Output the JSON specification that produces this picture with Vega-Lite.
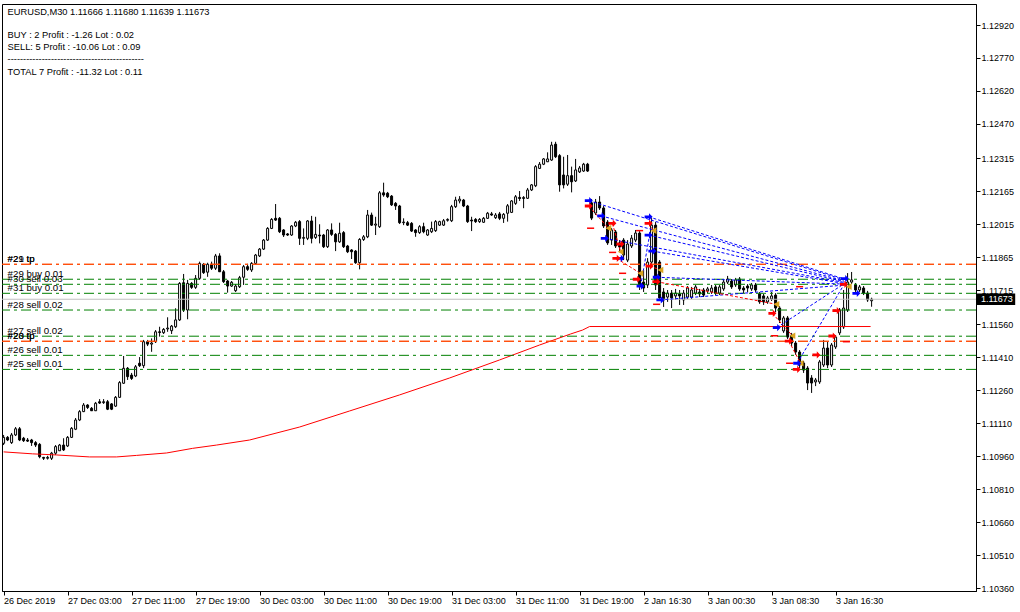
{
"$schema":"https://vega.github.io/schema/vega-lite/v6.json",
"width":974,"height":587,
"autosize":{"type":"none"},
"padding":{"left":2,"top":4,"right":44,"bottom":21},
"background":"white",
"config":{"view":{"stroke":"#000","strokeWidth":1},"axis":{"domainColor":"#000","tickColor":"#000","labelColor":"#000","labelFont":"Liberation Sans","labelFontSize":9,"grid":false,"labelOverlap":false}},
"datasets":{
"bars":[
{"i":0,"o":1.11018,"h":1.11056,"l":1.11010,"c":1.11045},
{"i":1,"o":1.11045,"h":1.11051,"l":1.11028,"c":1.11033},
{"i":2,"o":1.11021,"h":1.11065,"l":1.11015,"c":1.11056},
{"i":3,"o":1.11056,"h":1.11092,"l":1.11051,"c":1.11084},
{"i":4,"o":1.11084,"h":1.11092,"l":1.11028,"c":1.11033},
{"i":5,"o":1.11041,"h":1.11047,"l":1.11024,"c":1.11030},
{"i":6,"o":1.11033,"h":1.11042,"l":1.11024,"c":1.11028},
{"i":7,"o":1.11033,"h":1.11038,"l":1.11006,"c":1.11021},
{"i":8,"o":1.11021,"h":1.11028,"l":1.11001,"c":1.11010},
{"i":9,"o":1.11013,"h":1.11019,"l":1.10950,"c":1.10957},
{"i":10,"o":1.10954,"h":1.10956,"l":1.10942,"c":1.10950},
{"i":11,"o":1.10950,"h":1.10961,"l":1.10944,"c":1.10954},
{"i":12,"o":1.10950,"h":1.10979,"l":1.10942,"c":1.10973},
{"i":13,"o":1.10973,"h":1.11010,"l":1.10965,"c":1.11003},
{"i":14,"o":1.10984,"h":1.11015,"l":1.10983,"c":1.11010},
{"i":15,"o":1.11010,"h":1.11041,"l":1.10983,"c":1.10988},
{"i":16,"o":1.11006,"h":1.11051,"l":1.11001,"c":1.11045},
{"i":17,"o":1.11045,"h":1.11092,"l":1.11042,"c":1.11086},
{"i":18,"o":1.11082,"h":1.11133,"l":1.11078,"c":1.11124},
{"i":19,"o":1.11124,"h":1.11169,"l":1.11119,"c":1.11162},
{"i":20,"o":1.11162,"h":1.11201,"l":1.11160,"c":1.11192},
{"i":21,"o":1.11192,"h":1.11196,"l":1.11174,"c":1.11181},
{"i":22,"o":1.11177,"h":1.11183,"l":1.11165,"c":1.11166},
{"i":23,"o":1.11166,"h":1.11206,"l":1.11165,"c":1.11200},
{"i":24,"o":1.11207,"h":1.11219,"l":1.11197,"c":1.11201},
{"i":25,"o":1.11203,"h":1.11219,"l":1.11197,"c":1.11207},
{"i":26,"o":1.11207,"h":1.11215,"l":1.11169,"c":1.11173},
{"i":27,"o":1.11197,"h":1.11201,"l":1.11169,"c":1.11173},
{"i":28,"o":1.11187,"h":1.11233,"l":1.11183,"c":1.11227},
{"i":29,"o":1.11227,"h":1.11301,"l":1.11224,"c":1.11294},
{"i":30,"o":1.11291,"h":1.11415,"l":1.11288,"c":1.11359},
{"i":31,"o":1.11359,"h":1.11365,"l":1.11306,"c":1.11321},
{"i":32,"o":1.11328,"h":1.11338,"l":1.11306,"c":1.11313},
{"i":33,"o":1.11324,"h":1.11374,"l":1.11319,"c":1.11366},
{"i":34,"o":1.11382,"h":1.11410,"l":1.11365,"c":1.11371},
{"i":35,"o":1.11371,"h":1.11488,"l":1.11360,"c":1.11480},
{"i":36,"o":1.11480,"h":1.11488,"l":1.11460,"c":1.11469},
{"i":37,"o":1.11469,"h":1.11495,"l":1.11434,"c":1.11474},
{"i":38,"o":1.11480,"h":1.11533,"l":1.11474,"c":1.11525},
{"i":39,"o":1.11525,"h":1.11548,"l":1.11503,"c":1.11522},
{"i":40,"o":1.11521,"h":1.11542,"l":1.11515,"c":1.11536},
{"i":41,"o":1.11538,"h":1.11591,"l":1.11525,"c":1.11542},
{"i":42,"o":1.11530,"h":1.11556,"l":1.11515,"c":1.11551},
{"i":43,"o":1.11548,"h":1.11632,"l":1.11542,"c":1.11579},
{"i":44,"o":1.11579,"h":1.11751,"l":1.11574,"c":1.11745},
{"i":45,"o":1.11748,"h":1.11788,"l":1.11615,"c":1.11624},
{"i":46,"o":1.11624,"h":1.11761,"l":1.11582,"c":1.11745},
{"i":47,"o":1.11745,"h":1.11751,"l":1.11720,"c":1.11727},
{"i":48,"o":1.11727,"h":1.11783,"l":1.11720,"c":1.11768},
{"i":49,"o":1.11768,"h":1.11844,"l":1.11761,"c":1.11836},
{"i":50,"o":1.11832,"h":1.11838,"l":1.11788,"c":1.11794},
{"i":51,"o":1.11796,"h":1.11839,"l":1.11775,"c":1.11832},
{"i":52,"o":1.11832,"h":1.11844,"l":1.11806,"c":1.11814},
{"i":53,"o":1.11814,"h":1.11879,"l":1.11806,"c":1.11870},
{"i":54,"o":1.11870,"h":1.11882,"l":1.11797,"c":1.11798},
{"i":55,"o":1.11798,"h":1.11806,"l":1.11747,"c":1.11753},
{"i":56,"o":1.11756,"h":1.11761,"l":1.11703,"c":1.11733},
{"i":57,"o":1.11733,"h":1.11756,"l":1.11729,"c":1.11750},
{"i":58,"o":1.11712,"h":1.11742,"l":1.11706,"c":1.11733},
{"i":59,"o":1.11730,"h":1.11779,"l":1.11724,"c":1.11771},
{"i":60,"o":1.11773,"h":1.11829,"l":1.11738,"c":1.11821},
{"i":61,"o":1.11821,"h":1.11834,"l":1.11802,"c":1.11809},
{"i":62,"o":1.11806,"h":1.11842,"l":1.11797,"c":1.11836},
{"i":63,"o":1.11836,"h":1.11879,"l":1.11829,"c":1.11874},
{"i":64,"o":1.11870,"h":1.11906,"l":1.11865,"c":1.11901},
{"i":65,"o":1.11901,"h":1.11947,"l":1.11897,"c":1.11942},
{"i":66,"o":1.11942,"h":1.12001,"l":1.11938,"c":1.11995},
{"i":67,"o":1.11995,"h":1.12042,"l":1.11992,"c":1.12036},
{"i":68,"o":1.12041,"h":1.12106,"l":1.12029,"c":1.12033},
{"i":69,"o":1.12041,"h":1.12047,"l":1.11974,"c":1.11980},
{"i":70,"o":1.11988,"h":1.11992,"l":1.11956,"c":1.11965},
{"i":71,"o":1.11970,"h":1.11974,"l":1.11961,"c":1.11965},
{"i":72,"o":1.11965,"h":1.12010,"l":1.11961,"c":1.12006},
{"i":73,"o":1.12006,"h":1.12029,"l":1.12001,"c":1.12023},
{"i":74,"o":1.12026,"h":1.12033,"l":1.11920,"c":1.11950},
{"i":75,"o":1.11950,"h":1.11995,"l":1.11920,"c":1.11954},
{"i":76,"o":1.11950,"h":1.12033,"l":1.11942,"c":1.12029},
{"i":77,"o":1.12029,"h":1.12052,"l":1.11927,"c":1.11950},
{"i":78,"o":1.11954,"h":1.12048,"l":1.11947,"c":1.11968},
{"i":79,"o":1.11965,"h":1.12014,"l":1.11927,"c":1.11961},
{"i":80,"o":1.11965,"h":1.11970,"l":1.11906,"c":1.11912},
{"i":81,"o":1.11912,"h":1.11992,"l":1.11906,"c":1.11988},
{"i":82,"o":1.11988,"h":1.12018,"l":1.11961,"c":1.11968},
{"i":83,"o":1.11968,"h":1.11974,"l":1.11892,"c":1.11934},
{"i":84,"o":1.11934,"h":1.12021,"l":1.11929,"c":1.11973},
{"i":85,"o":1.11976,"h":1.11983,"l":1.11906,"c":1.11912},
{"i":86,"o":1.11915,"h":1.11920,"l":1.11883,"c":1.11889},
{"i":87,"o":1.11897,"h":1.11901,"l":1.11856,"c":1.11889},
{"i":88,"o":1.11892,"h":1.11897,"l":1.11834,"c":1.11839},
{"i":89,"o":1.11839,"h":1.11951,"l":1.11809,"c":1.11945},
{"i":90,"o":1.11945,"h":1.11965,"l":1.11938,"c":1.11957},
{"i":91,"o":1.11957,"h":1.12079,"l":1.11951,"c":1.12056},
{"i":92,"o":1.12056,"h":1.12067,"l":1.12006,"c":1.12010},
{"i":93,"o":1.12010,"h":1.12048,"l":1.11965,"c":1.12015},
{"i":94,"o":1.12003,"h":1.12165,"l":1.11997,"c":1.12157},
{"i":95,"o":1.12157,"h":1.12203,"l":1.12139,"c":1.12147},
{"i":96,"o":1.12155,"h":1.12161,"l":1.12133,"c":1.12139},
{"i":97,"o":1.12142,"h":1.12147,"l":1.12097,"c":1.12102},
{"i":98,"o":1.12109,"h":1.12115,"l":1.12079,"c":1.12097},
{"i":99,"o":1.12097,"h":1.12102,"l":1.12015,"c":1.12021},
{"i":100,"o":1.12021,"h":1.12041,"l":1.12010,"c":1.12024},
{"i":101,"o":1.12021,"h":1.12029,"l":1.12006,"c":1.12010},
{"i":102,"o":1.12018,"h":1.12024,"l":1.11979,"c":1.11983},
{"i":103,"o":1.11988,"h":1.11992,"l":1.11957,"c":1.11976},
{"i":104,"o":1.11976,"h":1.12010,"l":1.11970,"c":1.12003},
{"i":105,"o":1.12003,"h":1.12021,"l":1.11973,"c":1.11980},
{"i":106,"o":1.11965,"h":1.11992,"l":1.11961,"c":1.11988},
{"i":107,"o":1.11980,"h":1.12026,"l":1.11974,"c":1.11995},
{"i":108,"o":1.11985,"h":1.12033,"l":1.11979,"c":1.12026},
{"i":109,"o":1.12010,"h":1.12030,"l":1.12006,"c":1.12026},
{"i":110,"o":1.12010,"h":1.12038,"l":1.12006,"c":1.12030},
{"i":111,"o":1.12032,"h":1.12041,"l":1.12026,"c":1.12036},
{"i":112,"o":1.12030,"h":1.12102,"l":1.12024,"c":1.12094},
{"i":113,"o":1.12094,"h":1.12139,"l":1.12088,"c":1.12124},
{"i":114,"o":1.12120,"h":1.12142,"l":1.12109,"c":1.12128},
{"i":115,"o":1.12124,"h":1.12129,"l":1.12092,"c":1.12097},
{"i":116,"o":1.12097,"h":1.12102,"l":1.12020,"c":1.12026},
{"i":117,"o":1.12033,"h":1.12048,"l":1.11983,"c":1.12029},
{"i":118,"o":1.12036,"h":1.12042,"l":1.12020,"c":1.12026},
{"i":119,"o":1.12026,"h":1.12042,"l":1.12020,"c":1.12036},
{"i":120,"o":1.12023,"h":1.12047,"l":1.12020,"c":1.12041},
{"i":121,"o":1.12041,"h":1.12070,"l":1.12038,"c":1.12064},
{"i":122,"o":1.12061,"h":1.12070,"l":1.12052,"c":1.12056},
{"i":123,"o":1.12044,"h":1.12065,"l":1.12038,"c":1.12056},
{"i":124,"o":1.12061,"h":1.12070,"l":1.12033,"c":1.12041},
{"i":125,"o":1.12041,"h":1.12065,"l":1.12020,"c":1.12059},
{"i":126,"o":1.12064,"h":1.12106,"l":1.12026,"c":1.12098},
{"i":127,"o":1.12068,"h":1.12124,"l":1.12065,"c":1.12120},
{"i":128,"o":1.12109,"h":1.12147,"l":1.12102,"c":1.12139},
{"i":129,"o":1.12136,"h":1.12165,"l":1.12120,"c":1.12131},
{"i":130,"o":1.12131,"h":1.12142,"l":1.12087,"c":1.12136},
{"i":131,"o":1.12132,"h":1.12179,"l":1.12129,"c":1.12170},
{"i":132,"o":1.12170,"h":1.12197,"l":1.12165,"c":1.12193},
{"i":133,"o":1.12189,"h":1.12283,"l":1.12183,"c":1.12276},
{"i":134,"o":1.12268,"h":1.12297,"l":1.12265,"c":1.12287},
{"i":135,"o":1.12287,"h":1.12315,"l":1.12283,"c":1.12311},
{"i":136,"o":1.12298,"h":1.12341,"l":1.12297,"c":1.12311},
{"i":137,"o":1.12306,"h":1.12389,"l":1.12302,"c":1.12374},
{"i":138,"o":1.12378,"h":1.12389,"l":1.12315,"c":1.12321},
{"i":139,"o":1.12326,"h":1.12333,"l":1.12162,"c":1.12193},
{"i":140,"o":1.12238,"h":1.12321,"l":1.12177,"c":1.12193},
{"i":141,"o":1.12196,"h":1.12329,"l":1.12188,"c":1.12235},
{"i":142,"o":1.12235,"h":1.12276,"l":1.12159,"c":1.12207},
{"i":143,"o":1.12211,"h":1.12311,"l":1.12206,"c":1.12261},
{"i":144,"o":1.12252,"h":1.12279,"l":1.12247,"c":1.12270},
{"i":145,"o":1.12256,"h":1.12293,"l":1.12252,"c":1.12287},
{"i":146,"o":1.12287,"h":1.12293,"l":1.12252,"c":1.12256},
{"i":147,"o":1.12111,"h":1.12129,"l":1.12033,"c":1.12042},
{"i":148,"o":1.12065,"h":1.12129,"l":1.12056,"c":1.12115},
{"i":149,"o":1.12115,"h":1.12142,"l":1.12079,"c":1.12088},
{"i":150,"o":1.12088,"h":1.12097,"l":1.11997,"c":1.12006},
{"i":151,"o":1.12024,"h":1.12033,"l":1.11920,"c":1.11929},
{"i":152,"o":1.11942,"h":1.11997,"l":1.11920,"c":1.11988},
{"i":153,"o":1.11979,"h":1.11988,"l":1.11906,"c":1.11915},
{"i":154,"o":1.11929,"h":1.11942,"l":1.11888,"c":1.11911},
{"i":155,"o":1.11942,"h":1.11951,"l":1.11851,"c":1.11874},
{"i":156,"o":1.11851,"h":1.11942,"l":1.11842,"c":1.11924},
{"i":157,"o":1.11915,"h":1.11965,"l":1.11906,"c":1.11951},
{"i":158,"o":1.11942,"h":1.11988,"l":1.11933,"c":1.11974},
{"i":159,"o":1.11974,"h":1.11983,"l":1.11715,"c":1.11738},
{"i":160,"o":1.11751,"h":1.11806,"l":1.11706,"c":1.11724},
{"i":161,"o":1.11738,"h":1.11860,"l":1.11724,"c":1.11842},
{"i":162,"o":1.11842,"h":1.12042,"l":1.11834,"c":1.12010},
{"i":163,"o":1.12010,"h":1.12024,"l":1.11715,"c":1.11738},
{"i":164,"o":1.11842,"h":1.11851,"l":1.11665,"c":1.11679},
{"i":165,"o":1.11706,"h":1.11724,"l":1.11638,"c":1.11670},
{"i":166,"o":1.11683,"h":1.11715,"l":1.11661,"c":1.11701},
{"i":167,"o":1.11701,"h":1.11715,"l":1.11633,"c":1.11679},
{"i":168,"o":1.11688,"h":1.11720,"l":1.11670,"c":1.11701},
{"i":169,"o":1.11697,"h":1.11715,"l":1.11647,"c":1.11688},
{"i":170,"o":1.11670,"h":1.11715,"l":1.11647,"c":1.11701},
{"i":171,"o":1.11683,"h":1.11733,"l":1.11674,"c":1.11724},
{"i":172,"o":1.11683,"h":1.11729,"l":1.11674,"c":1.11715},
{"i":173,"o":1.11701,"h":1.11738,"l":1.11692,"c":1.11729},
{"i":174,"o":1.11706,"h":1.11720,"l":1.11683,"c":1.11697},
{"i":175,"o":1.11715,"h":1.11724,"l":1.11683,"c":1.11692},
{"i":176,"o":1.11711,"h":1.11729,"l":1.11701,"c":1.11720},
{"i":177,"o":1.11706,"h":1.11738,"l":1.11697,"c":1.11724},
{"i":178,"o":1.11729,"h":1.11738,"l":1.11692,"c":1.11701},
{"i":179,"o":1.11701,"h":1.11738,"l":1.11692,"c":1.11729},
{"i":180,"o":1.11720,"h":1.11761,"l":1.11711,"c":1.11751},
{"i":181,"o":1.11751,"h":1.11779,"l":1.11742,"c":1.11765},
{"i":182,"o":1.11756,"h":1.11765,"l":1.11720,"c":1.11729},
{"i":183,"o":1.11738,"h":1.11770,"l":1.11729,"c":1.11761},
{"i":184,"o":1.11765,"h":1.11774,"l":1.11711,"c":1.11720},
{"i":185,"o":1.11724,"h":1.11733,"l":1.11701,"c":1.11715},
{"i":186,"o":1.11733,"h":1.11742,"l":1.11706,"c":1.11724},
{"i":187,"o":1.11720,"h":1.11747,"l":1.11711,"c":1.11738},
{"i":188,"o":1.11738,"h":1.11747,"l":1.11706,"c":1.11715},
{"i":189,"o":1.11697,"h":1.11706,"l":1.11652,"c":1.11661},
{"i":190,"o":1.11688,"h":1.11697,"l":1.11647,"c":1.11661},
{"i":191,"o":1.11661,"h":1.11688,"l":1.11652,"c":1.11679},
{"i":192,"o":1.11674,"h":1.11706,"l":1.11665,"c":1.11688},
{"i":193,"o":1.11692,"h":1.11701,"l":1.11615,"c":1.11633},
{"i":194,"o":1.11633,"h":1.11642,"l":1.11565,"c":1.11579},
{"i":195,"o":1.11529,"h":1.11597,"l":1.11520,"c":1.11588},
{"i":196,"o":1.11588,"h":1.11597,"l":1.11492,"c":1.11501},
{"i":197,"o":1.11510,"h":1.11520,"l":1.11460,"c":1.11474},
{"i":198,"o":1.11474,"h":1.11483,"l":1.11420,"c":1.11433},
{"i":199,"o":1.11433,"h":1.11442,"l":1.11360,"c":1.11374},
{"i":200,"o":1.11383,"h":1.11392,"l":1.11338,"c":1.11351},
{"i":201,"o":1.11360,"h":1.11369,"l":1.11260,"c":1.11292},
{"i":202,"o":1.11315,"h":1.11328,"l":1.11247,"c":1.11292},
{"i":203,"o":1.11297,"h":1.11315,"l":1.11278,"c":1.11306},
{"i":204,"o":1.11297,"h":1.11397,"l":1.11288,"c":1.11388},
{"i":205,"o":1.11374,"h":1.11488,"l":1.11365,"c":1.11451},
{"i":206,"o":1.11451,"h":1.11479,"l":1.11360,"c":1.11374},
{"i":207,"o":1.11374,"h":1.11474,"l":1.11365,"c":1.11465},
{"i":208,"o":1.11456,"h":1.11510,"l":1.11447,"c":1.11501},
{"i":209,"o":1.11520,"h":1.11633,"l":1.11510,"c":1.11624},
{"i":210,"o":1.11547,"h":1.11715,"l":1.11538,"c":1.11633},
{"i":211,"o":1.11624,"h":1.11792,"l":1.11615,"c":1.11751},
{"i":212,"o":1.11751,"h":1.11797,"l":1.11742,"c":1.11761},
{"i":213,"o":1.11738,"h":1.11747,"l":1.11706,"c":1.11715},
{"i":214,"o":1.11715,"h":1.11738,"l":1.11706,"c":1.11729},
{"i":215,"o":1.11724,"h":1.11733,"l":1.11692,"c":1.11701},
{"i":216,"o":1.11701,"h":1.11711,"l":1.11661,"c":1.11670},
{"i":217,"o":1.11666,"h":1.11680,"l":1.11639,"c":1.11673}
],
"ma":[
{"i":0,"p":1.10979},{"i":7.25,"p":1.10970},{"i":13.25,"p":1.10965},{"i":21.5,"p":1.10956},{"i":28.25,"p":1.10956},{"i":33.25,"p":1.10963},{"i":40.75,"p":1.10974},{"i":47.25,"p":1.10995},{"i":53.25,"p":1.11010},{"i":61.5,"p":1.11033},{"i":74,"p":1.11092},{"i":86.5,"p":1.11165},{"i":99,"p":1.11238},{"i":111.5,"p":1.11315},{"i":124,"p":1.11397},{"i":134,"p":1.11465},{"i":141.75,"p":1.11515},{"i":144.75,"p":1.11533},{"i":146.5,"p":1.11549},{"i":216.75,"p":1.11549}
],
"levels":[
{"p":1.11832,"label":"#21 tp","kind":"tp"},
{"p":1.11832,"label":"#29 tp","kind":"tp"},
{"p":1.11764,"label":"#29 buy 0.01","kind":"order"},
{"p":1.11741,"label":"#30 sell 0.03","kind":"order"},
{"p":1.11700,"label":"#31 buy 0.01","kind":"order"},
{"p":1.11624,"label":"#28 sell 0.02","kind":"order"},
{"p":1.11505,"label":"#27 sell 0.02","kind":"order"},
{"p":1.11482,"label":"#20 tp","kind":"tp"},
{"p":1.11482,"label":"#28 tp","kind":"tp"},
{"p":1.11418,"label":"#26 sell 0.01","kind":"order"},
{"p":1.11354,"label":"#25 sell 0.01","kind":"order"}
],
"trades":[
{"side":"buy","i":146.3,"p":1.12121,"i2":210,"p2":1.11762},
{"side":"buy","i":149.4,"p":1.12052,"i2":210,"p2":1.11757},
{"side":"buy","i":150.3,"p":1.11950,"i2":210,"p2":1.11750},
{"side":"buy","i":161.25,"p":1.12048,"i2":210,"p2":1.11766},
{"side":"buy","i":161.25,"p":1.11965,"i2":210,"p2":1.11753},
{"side":"buy","i":162.2,"p":1.11892,"i2":210,"p2":1.11745},
{"side":"buy","i":163.3,"p":1.11773,"i2":210,"p2":1.11742},
{"side":"buy","i":164.2,"p":1.11670,"i2":210,"p2":1.11737},
{"side":"buy","i":193.3,"p":1.11544,"i2":210,"p2":1.11742},
{"side":"buy","i":198.4,"p":1.11382,"i2":210,"p2":1.11737},
{"side":"buy","i":159.25,"p":1.11733,"i2":161.5,"p2":1.11965},
{"side":"sell","i":146.3,"p":1.12097,"i2":151.2,"p2":1.11996},
{"side":"sell","i":152.2,"p":1.12018,"i2":154.25,"p2":1.11889},
{"side":"sell","i":153.2,"p":1.11859,"i2":159.2,"p2":1.11791},
{"side":"sell","i":161.25,"p":1.12018,"i2":162.5,"p2":1.11985},
{"side":"sell","i":161.5,"p":1.11824,"i2":164.2,"p2":1.11806},
{"side":"sell","i":163.2,"p":1.11753,"i2":193.2,"p2":1.11650},
{"side":"sell","i":192.2,"p":1.11609,"i2":197.2,"p2":1.11507},
{"side":"sell","i":196.3,"p":1.11483,"i2":199.25,"p2":1.11382}
],
"arrows":[
{"side":"buy","i":146.3,"p":1.12121},{"side":"buy","i":149.4,"p":1.12052},{"side":"buy","i":150.3,"p":1.11950},{"side":"buy","i":154.2,"p":1.11859},{"side":"buy","i":161.25,"p":1.12048},{"side":"buy","i":161.25,"p":1.11965},{"side":"buy","i":162.2,"p":1.11892},{"side":"buy","i":159.25,"p":1.11733},{"side":"buy","i":163.3,"p":1.11773},{"side":"buy","i":164.2,"p":1.11670},{"side":"buy","i":193.3,"p":1.11544},{"side":"buy","i":198.4,"p":1.11382},{"side":"buy","i":210.3,"p":1.11767},{"side":"buy","i":213.2,"p":1.11700},
{"side":"sell","i":146.3,"p":1.12097},{"side":"sell","i":152.2,"p":1.12018},{"side":"sell","i":154.2,"p":1.11924},{"side":"sell","i":153.2,"p":1.11859},{"side":"sell","i":161.25,"p":1.12018},{"side":"sell","i":161.5,"p":1.11824},{"side":"sell","i":163.2,"p":1.11753},{"side":"sell","i":158.3,"p":1.11764},{"side":"sell","i":192.2,"p":1.11609},{"side":"sell","i":196.3,"p":1.11483},{"side":"sell","i":198.3,"p":1.11354},{"side":"sell","i":203.2,"p":1.11420},{"side":"sell","i":207.2,"p":1.11506},{"side":"sell","i":208.2,"p":1.11621},{"side":"sell","i":210.1,"p":1.11741}
],
"closes":[
{"i":151.2,"p":1.11996},{"i":154.25,"p":1.11889},{"i":159.2,"p":1.11791},{"i":162.5,"p":1.11985},{"i":164.2,"p":1.11806},{"i":193.2,"p":1.11650},{"i":197.2,"p":1.11507},{"i":199.25,"p":1.11382},{"i":211.3,"p":1.11730}
],
"stops":[
{"i":146.75,"p":1.11996},{"i":152.25,"p":1.11886},{"i":154.75,"p":1.11791},{"i":159,"p":1.11985},{"i":163.25,"p":1.11650},{"i":192.75,"p":1.11507},{"i":196.5,"p":1.11382},{"i":199,"p":1.11730},{"i":210.7,"p":1.11480}
]
},
"layer":[
{"data":{"name":"bars"},"mark":{"type":"rule","stroke":"#000","strokeWidth":1},
 "encoding":{
  "x":{"field":"i","type":"quantitative","scale":{"domain":[-0.4,243.1],"nice":false,"zero":false,"padding":0},
       "axis":{"title":null,"values":[0,16,32,48,64,80,96,112,128,144,160,176,192,208],"tickCount":40,
               "labelExpr":"['26 Dec 2019','27 Dec 03:00','27 Dec 11:00','27 Dec 19:00','30 Dec 03:00','30 Dec 11:00','30 Dec 19:00','31 Dec 03:00','31 Dec 11:00','31 Dec 19:00','2 Jan 16:30','3 Jan 00:30','3 Jan 08:30','3 Jan 16:30'][round(datum.value/16)]",
               "tickSize":4,"labelAlign":"left","labelBaseline":"top","labelPadding":1,"labelFlush":false,"labelOverlap":false,"labelBound":false}},
  "y":{"field":"l","type":"quantitative","scale":{"domain":[1.103464,1.130155],"nice":false,"zero":false,"padding":0},
       "axis":{"title":null,"orient":"right","format":".5f","tickSize":4,"labelPadding":1,"labelOverlap":false,"labelFlush":false,"tickCount":40,
               "values":[1.10360,1.10510,1.10660,1.10810,1.10960,1.11110,1.11260,1.11410,1.11560,1.11715,1.11865,1.12015,1.12165,1.12315,1.12470,1.12620,1.12770,1.12920]}},
  "y2":{"field":"h"}}},
{"data":{"name":"bars"},"mark":{"type":"bar","width":2,"stroke":"#000","strokeWidth":1},
 "encoding":{
  "x":{"field":"i","type":"quantitative","scale":{"domain":[-0.4,243.1],"nice":false,"zero":false,"padding":0},"title":null},
  "y":{"field":"o","type":"quantitative","scale":{"domain":[1.103464,1.130155],"nice":false,"zero":false,"padding":0},"title":null},
  "y2":{"field":"c"},
  "fill":{"condition":{"test":"datum.c >= datum.o","value":"#ffffff"},"value":"#000000"}}},
{"data":{"name":"ma"},"mark":{"type":"line","color":"#FF0000","strokeWidth":1},
 "encoding":{
  "x":{"field":"i","type":"quantitative","scale":{"domain":[-0.4,243.1],"nice":false,"zero":false,"padding":0},"title":null},
  "y":{"field":"p","type":"quantitative","scale":{"domain":[1.103464,1.130155],"nice":false,"zero":false,"padding":0},"title":null}}},
{"data":{"name":"levels"},"mark":{"type":"rule","strokeWidth":1,"strokeDash":[10,4,3,4]},
 "encoding":{
  "y":{"field":"p","type":"quantitative","scale":{"domain":[1.103464,1.130155],"nice":false,"zero":false,"padding":0},"title":null},
  "stroke":{"condition":{"test":"datum.kind == 'tp'","value":"#FF4500"},"value":"#008000"}}},
{"data":{"values":[{}]},"mark":{"type":"rule","color":"#C0C0C0","strokeWidth":1},
 "encoding":{
  "y":{"datum":1.11673,"type":"quantitative","scale":{"domain":[1.103464,1.130155],"nice":false,"zero":false,"padding":0},"title":null}}},
{"data":{"name":"trades"},"mark":{"type":"rule","strokeWidth":1,"strokeDash":[3,2]},
 "encoding":{
  "x":{"field":"i","type":"quantitative","scale":{"domain":[-0.4,243.1],"nice":false,"zero":false,"padding":0},"title":null},
  "x2":{"field":"i2"},
  "y":{"field":"p","type":"quantitative","scale":{"domain":[1.103464,1.130155],"nice":false,"zero":false,"padding":0},"title":null},
  "y2":{"field":"p2"},
  "stroke":{"condition":{"test":"datum.side == 'buy'","value":"#0000FF"},"value":"#FF0000"}}},
{"data":{"name":"stops"},"mark":{"type":"point","shape":"stroke","size":50,"filled":false,"stroke":"#FF0000","strokeWidth":1.5,"opacity":1},
 "encoding":{
  "x":{"field":"i","type":"quantitative","scale":{"domain":[-0.4,243.1],"nice":false,"zero":false,"padding":0},"title":null},
  "y":{"field":"p","type":"quantitative","scale":{"domain":[1.103464,1.130155],"nice":false,"zero":false,"padding":0},"title":null}}},
{"data":{"name":"closes"},"mark":{"type":"point","shape":"triangle-left","size":45,"filled":true,"color":"#DAA520","opacity":1},
 "encoding":{
  "x":{"field":"i","type":"quantitative","scale":{"domain":[-0.4,243.1],"nice":false,"zero":false,"padding":0},"title":null},
  "y":{"field":"p","type":"quantitative","scale":{"domain":[1.103464,1.130155],"nice":false,"zero":false,"padding":0},"title":null}}},
{"data":{"name":"arrows"},"mark":{"type":"point","shape":"M-1,-0.35L0.1,-0.35L0.1,-0.9L1,0L0.1,0.9L0.1,0.35L-1,0.35Z","size":64,"filled":true,"opacity":1},
 "encoding":{
  "x":{"field":"i","type":"quantitative","scale":{"domain":[-0.4,243.1],"nice":false,"zero":false,"padding":0},"title":null},
  "y":{"field":"p","type":"quantitative","scale":{"domain":[1.103464,1.130155],"nice":false,"zero":false,"padding":0},"title":null},
  "color":{"condition":{"test":"datum.side == 'buy'","value":"#0000FF"},"value":"#FF0000"}}},
{"data":{"name":"levels"},"mark":{"type":"text","align":"left","baseline":"alphabetic","dy":-2.5,"font":"Liberation Sans","fontSize":9.7,"color":"#000000"},
 "encoding":{
  "x":{"datum":1,"type":"quantitative","scale":{"domain":[-0.4,243.1],"nice":false,"zero":false,"padding":0},"title":null},
  "y":{"field":"p","type":"quantitative","scale":{"domain":[1.103464,1.130155],"nice":false,"zero":false,"padding":0},"title":null},
  "text":{"field":"label"}}},
{"data":{"values":[{}]},"mark":{"type":"text","align":"left","baseline":"middle","font":"Liberation Sans","fontSize":9.3,"color":"#000000","text":"EURUSD,M30  1.11666 1.11680 1.11639 1.11673"},
 "encoding":{
  "x":{"datum":1,"type":"quantitative","scale":{"domain":[-0.4,243.1],"nice":false,"zero":false,"padding":0},"title":null},
  "y":{"datum":1.12981,"type":"quantitative","scale":{"domain":[1.103464,1.130155],"nice":false,"zero":false,"padding":0},"title":null}}},
{"data":{"values":[{}]},"mark":{"type":"text","align":"left","baseline":"middle","font":"Liberation Sans","fontSize":9.3,"color":"#000000","text":"BUY : 2 Profit : -1.26 Lot : 0.02"},
 "encoding":{
  "x":{"datum":1,"type":"quantitative","scale":{"domain":[-0.4,243.1],"nice":false,"zero":false,"padding":0},"title":null},
  "y":{"datum":1.12875,"type":"quantitative","scale":{"domain":[1.103464,1.130155],"nice":false,"zero":false,"padding":0},"title":null}}},
{"data":{"values":[{}]},"mark":{"type":"text","align":"left","baseline":"middle","font":"Liberation Sans","fontSize":9.3,"color":"#000000","text":"SELL: 5 Profit : -10.06 Lot : 0.09"},
 "encoding":{
  "x":{"datum":1,"type":"quantitative","scale":{"domain":[-0.4,243.1],"nice":false,"zero":false,"padding":0},"title":null},
  "y":{"datum":1.12821,"type":"quantitative","scale":{"domain":[1.103464,1.130155],"nice":false,"zero":false,"padding":0},"title":null}}},
{"data":{"values":[{}]},"mark":{"type":"text","align":"left","baseline":"middle","font":"Liberation Sans","fontSize":9.3,"color":"#000000","text":"--------------------------------------------"},
 "encoding":{
  "x":{"datum":1,"type":"quantitative","scale":{"domain":[-0.4,243.1],"nice":false,"zero":false,"padding":0},"title":null},
  "y":{"datum":1.12765,"type":"quantitative","scale":{"domain":[1.103464,1.130155],"nice":false,"zero":false,"padding":0},"title":null}}},
{"data":{"values":[{}]},"mark":{"type":"text","align":"left","baseline":"middle","font":"Liberation Sans","fontSize":9.3,"color":"#000000","text":"TOTAL 7 Profit : -11.32 Lot : 0.11"},
 "encoding":{
  "x":{"datum":1,"type":"quantitative","scale":{"domain":[-0.4,243.1],"nice":false,"zero":false,"padding":0},"title":null},
  "y":{"datum":1.12708,"type":"quantitative","scale":{"domain":[1.103464,1.130155],"nice":false,"zero":false,"padding":0},"title":null}}},
{"data":{"values":[{}]},"mark":{"type":"rect","color":"#000000"},
 "encoding":{
  "x":{"datum":243.1,"type":"quantitative","scale":{"domain":[-0.4,243.1],"nice":false,"zero":false,"padding":0},"title":null},
  "x2":{"datum":252.9},
  "y":{"datum":1.11699,"type":"quantitative","scale":{"domain":[1.103464,1.130155],"nice":false,"zero":false,"padding":0},"title":null},
  "y2":{"datum":1.11647}}},
{"data":{"values":[{}]},"mark":{"type":"text","align":"left","baseline":"middle","font":"Liberation Sans","fontSize":9,"color":"#FFFFFF","text":"1.11673"},
 "encoding":{
  "x":{"datum":244.35,"type":"quantitative","scale":{"domain":[-0.4,243.1],"nice":false,"zero":false,"padding":0},"title":null},
  "y":{"datum":1.11673,"type":"quantitative","scale":{"domain":[1.103464,1.130155],"nice":false,"zero":false,"padding":0},"title":null}}}
]
}
